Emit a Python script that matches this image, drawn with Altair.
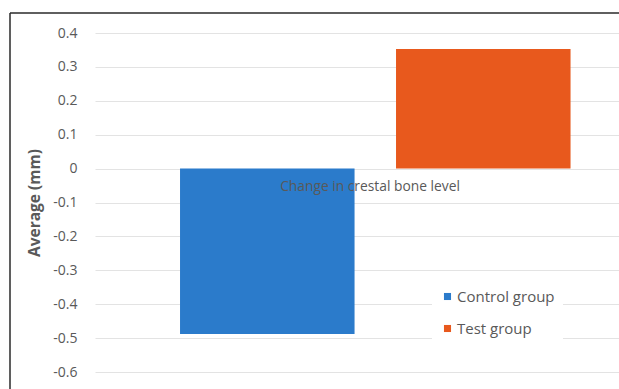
import altair as alt
import pandas as pd

category = "Change in crestal bone level"
groups = ["Control group", "Test group"]
values = [-0.488, 0.353]
colors = ["#2b7bcb", "#e8591d"]
y_ticks = [0.4, 0.3, 0.2, 0.1, 0, -0.1, -0.2, -0.3, -0.4, -0.5, -0.6]

df = pd.DataFrame({"category": [category] * len(groups), "group": groups, "value": values})
lab_df = pd.DataFrame({"category": [category]})
one = pd.DataFrame({"a": [0]})

FONT = "Open Sans"
GREY = "#595959"

x_enc = alt.X("category:N", axis=None, scale=alt.Scale(paddingInner=0, paddingOuter=0))
y_scale = alt.Scale(domain=[-0.6, 0.4], nice=False)
y_axis = alt.Axis(values=y_ticks, labelExpr="toString(round(datum.value*10)/10)",
                  labelOverlap=False, tickCount=len(y_ticks) + 1,
                  grid=True, gridColor="#e3e3e3", gridWidth=1, domain=False, ticks=False,
                  labelPadding=18, labelFontSize=14, labelColor=GREY, labelFont=FONT,
                  title="Average (mm)", titleFont=FONT, titleFontSize=15.5,
                  titleFontWeight="bold", titleColor=GREY, titlePadding=10)

bars = alt.Chart(df).mark_bar().encode(
    x=x_enc,
    xOffset=alt.XOffset("group:N", scale=alt.Scale(domain=groups, paddingInner=0.192,
                                                   paddingOuter=0.309, align=0.637)),
    y=alt.Y("value:Q", scale=y_scale, axis=y_axis),
    y2=alt.datum(0),
    color=alt.Color("group:N", scale=alt.Scale(domain=groups, range=colors),
                    legend=alt.Legend(orient="none", legendX=337, legendY=248, title=None,
                                      fillColor="white", padding=8, symbolType="square",
                                      symbolSize=50, symbolStrokeWidth=0, labelFontSize=15,
                                      labelFont=FONT, labelColor=GREY, rowPadding=16,
                                      labelOffset=2)),
)

label = alt.Chart(lab_df).mark_text(dy=18, dx=13, fontSize=13.8, font=FONT, color=GREY).encode(
    x=x_enc,
    y=alt.Y(datum=0, scale=y_scale, axis=y_axis),
    text="category:N",
)

frame_v = alt.Chart(one).mark_rule(color="#2a2a2a", strokeWidth=1.5, clip=False).encode(
    x=alt.value(-85), y=alt.value(-20), y2=alt.value(360))
frame_h = alt.Chart(one).mark_rule(color="#2a2a2a", strokeWidth=1.5, clip=False).encode(
    x=alt.value(-85), x2=alt.value(530), y=alt.value(-20))

chart = alt.layer(frame_v, frame_h, bars, label).properties(
    width=524, height=339,
    padding={"left": 95, "top": 33, "right": 0, "bottom": 17},
    autosize=alt.AutoSizeParams(type="none"),
    background="white",
).configure_view(stroke=None)

chart.save("out.html", embed_options={"renderer": "svg", "actions": False})
